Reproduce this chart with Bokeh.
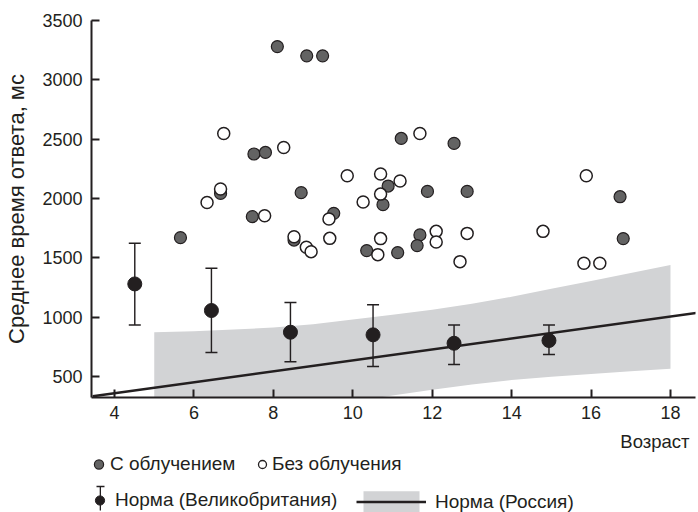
from bokeh.plotting import figure
from bokeh.layouts import column
from bokeh.models import Range1d, FixedTicker, Legend, LegendItem, Label
from bokeh.embed import file_html
from bokeh.resources import INLINE

# ---- data ----
irr_age = [5.66, 8.10, 8.84, 9.24, 7.51, 7.80, 6.67, 7.47, 8.70, 9.52, 8.52,
           11.22, 12.55, 10.89, 10.76, 11.88, 12.88, 16.73, 16.81, 11.69, 11.62,
           10.35, 11.13]
irr_rt = [1670, 3280, 3202, 3202, 2375, 2388, 2043, 1847, 2049, 1875, 1650,
          2506, 2464, 2105, 1948, 2060, 2060, 2015, 1662, 1693, 1603,
          1561, 1544]

non_age = [6.75, 8.26, 9.86, 6.67, 6.33, 7.78, 9.40, 8.52, 9.42, 8.83, 8.95,
           11.69, 10.70, 11.19, 10.70, 10.26, 15.88, 10.70, 12.10, 12.10, 12.88,
           14.79, 10.63, 12.70, 15.82, 16.22]
non_rt = [2548, 2430, 2192, 2080, 1967, 1855, 1827, 1678, 1664, 1589, 1552,
          2548, 2206, 2147, 2037, 1970, 2192, 1662, 1723, 1634, 1706,
          1723, 1527, 1468, 1454, 1454]

uk_age = [4.51, 6.44, 8.43, 10.51, 12.55, 14.94]
uk_mean = [1280, 1056, 873, 851, 780, 803]
uk_upper = [1622, 1412, 1123, 1104, 935, 935]
uk_lower = [935, 702, 624, 584, 601, 685]

ru_band_age = [5, 6, 7, 8, 9, 10, 11, 12, 13, 14, 15, 16, 17, 18]
ru_band_upper = [873, 882, 895, 912, 940, 980, 1020, 1062, 1112, 1172, 1240, 1305, 1372, 1440]
ru_band_lower = [60, 110, 160, 205, 250, 290, 340, 388, 432, 470, 498, 522, 545, 565]

ru_line_age = [3.45, 18.65]
ru_line_mean = [333, 1036]

x_ticks = [4, 6, 8, 10, 12, 14, 16, 18]
y_ticks = [500, 1000, 1500, 2000, 2500, 3000, 3500]

y_label = "Среднее время ответа, мс"
x_label = "Возраст"
lbl_irr = "С облучением"
lbl_non = "Без облучения"
lbl_uk = "Норма (Великобритания)"
lbl_ru = "Норма (Россия)"

# ---- styles ----
FONT = "Liberation Sans"
INK = "#231f20"
GREY = "#636363"
BAND = "#d2d3d5"
LEFT, RIGHT = 91, 3

p = figure(width=698, height=430, output_backend="svg", toolbar_location=None,
           x_range=Range1d(3.42, 18.63), y_range=Range1d(323, 3500),
           min_border_left=LEFT, min_border_right=RIGHT, min_border_top=20,
           min_border_bottom=33)
p.grid.visible = False
p.outline_line_color = None
p.background_fill_color = "white"

for ax in (p.xaxis[0], p.yaxis[0]):
    ax.axis_line_width = 2
    ax.axis_line_color = INK
    ax.major_tick_line_width = 2
    ax.major_tick_line_color = INK
    ax.major_tick_in = 8
    ax.major_tick_out = 0
    ax.minor_tick_line_color = None
    ax.major_label_text_font = FONT
    ax.major_label_text_font_size = "18px"
    ax.major_label_text_color = INK

p.xaxis.ticker = FixedTicker(ticks=x_ticks)
p.yaxis.ticker = FixedTicker(ticks=y_ticks)
p.xaxis.major_label_standoff = 8
p.yaxis.major_label_standoff = 9
p.yaxis.axis_label = y_label
p.yaxis.axis_label_text_font = FONT
p.yaxis.axis_label_text_font_size = "22px"
p.yaxis.axis_label_text_font_style = "normal"
p.yaxis.axis_label_text_color = INK
p.yaxis.axis_label_standoff = 10

# Russian norm band and line
p.varea(x=ru_band_age, y1=ru_band_lower, y2=ru_band_upper, fill_color=BAND)
p.line(x=ru_line_age, y=ru_line_mean, line_color=INK, line_width=2.5)

# UK norm: error bars, caps and points
p.vbar(x=uk_age, bottom=uk_lower, top=uk_upper, width=0.036, fill_color=INK, line_color=None)
p.scatter(x=uk_age + uk_age, y=uk_upper + uk_lower, marker="dash", size=12,
          line_color=INK, line_width=1.5)
p.scatter(x=uk_age, y=uk_mean, size=14, fill_color=INK, line_color=INK)

# patients
p.scatter(x=irr_age, y=irr_rt, size=12, fill_color=GREY, line_color=INK, line_width=1.2)
p.scatter(x=non_age, y=non_rt, size=12, fill_color="white", line_color=INK, line_width=1.5)

# ---- legend strip below the chart (frame aligned with the chart's frame) ----
lf = figure(width=698, height=82, output_backend="svg", toolbar_location=None,
            x_range=Range1d(LEFT, 698 - RIGHT), y_range=Range1d(0, 82),
            x_axis_type=None, y_axis_type=None,
            min_border_left=LEFT, min_border_right=RIGHT, min_border_top=0,
            min_border_bottom=0)
lf.grid.visible = False
lf.outline_line_color = None
lf.background_fill_color = "white"

lf.add_layout(Label(x=689, y=71, text=x_label, text_align="right", text_baseline="middle",
                    text_font=FONT, text_font_size="18.5px", text_color=INK))

# hidden renderers that only supply the legend symbols
k_irr = lf.scatter(x=irr_age, y=irr_rt, fill_color=GREY, line_color=INK, line_width=1.2,
                   visible=False)
k_non = lf.scatter(x=non_age, y=non_rt, fill_color="white", line_color=INK, line_width=1.3,
                   visible=False)
k_bar = lf.vbar(x=uk_age, bottom=uk_lower, top=uk_upper, width=1, fill_color=INK,
                line_color=None, visible=False)
k_cap = lf.scatter(x=uk_age, y=uk_upper, marker="dash", line_color=INK, line_width=1.5,
                   visible=False)
k_uk = lf.scatter(x=uk_age, y=uk_mean, fill_color=INK, line_color=INK, visible=False)
k_band = lf.varea(x=ru_band_age, y1=ru_band_lower, y2=ru_band_upper, fill_color=BAND,
                  visible=False)
k_line = lf.line(x=ru_line_age, y=ru_line_mean, line_color=INK, line_width=2.5,
                 visible=False)


def add_legend(renderers, label, gw, gh, loc, standoff=0, fs="19px"):
    lg = Legend(items=[LegendItem(label=label, renderers=renderers)], location=loc,
                glyph_width=gw, glyph_height=gh, label_height=gh, label_standoff=standoff,
                padding=0, margin=0, spacing=0, border_line_color=None,
                background_fill_alpha=0, inactive_fill_alpha=0,
                label_text_font=FONT, label_text_font_size=fs,
                label_text_color=INK, label_text_baseline="middle")
    lf.add_layout(lg, "center")


add_legend([k_irr], lbl_irr, 23, 24, (-4, 36))
add_legend([k_non], lbl_non, 20, 24, (161, 36), standoff=-5)
add_legend([k_bar], " ", 2, 30, (8, -1), fs="1px")
add_legend([k_cap], " ", 20, 20, (-1, 16), fs="1px")
add_legend([k_uk], lbl_uk, 23, 24, (-3, 0), standoff=4)
add_legend([k_band, k_line], lbl_ru, 70, 27, (265, -3), standoff=9)

layout = column(p, lf, spacing=0)
open("out.html", "w").write(file_html(layout, INLINE))
